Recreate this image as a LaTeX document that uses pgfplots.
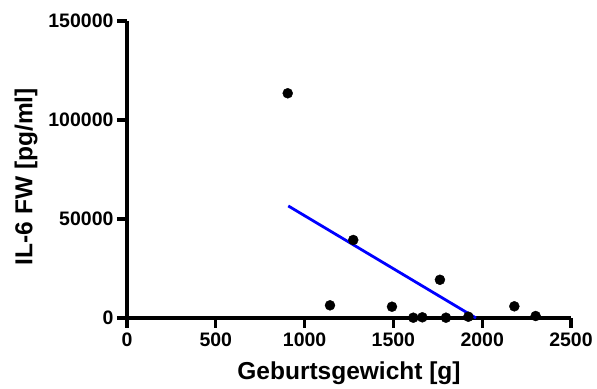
\documentclass[border=0pt]{standalone}
\usepackage{fontspec}
\setmainfont{Liberation Sans}
\usepackage{pgfplots}
\pgfplotsset{compat=1.18}
\begin{document}
\begin{tikzpicture}
\begin{axis}[
  scale only axis,
  width=444pt, height=297pt,
  xmin=0, xmax=2500, ymin=0, ymax=150000,
  axis x line=bottom, axis y line=left,
  axis line style={line width=3.2pt, -},
  x axis line style={line width=3.2pt, -},
  y axis line style={line width=3.2pt, -},
  xtick={0,500,1000,1500,2000,2500},
  xticklabels={0,500,1000,1500,2000,2500},
  ytick={0,50000,100000,150000},
  yticklabels={0,50000,100000,150000},
  scaled ticks=false,
  tick align=outside,
  major tick length=10pt,
  major tick style={line width=3.2pt, black},
  tick label style={font=\fontsize{19.5}{20}\selectfont\bfseries},
  xticklabel style={yshift=-1pt},
  label style={font=\fontsize{24.5}{25}\selectfont\bfseries},
  xlabel={Geburtsgewicht [g]},
  ylabel={IL-6 FW [pg/ml]},
  xlabel style={at={(axis description cs:0.5,0)}, anchor=base, yshift=-62pt},
  ylabel style={at={(axis description cs:-0.2275,0.476)}, anchor=center},
  clip=false,
]
\path[draw=none] (rel axis cs:0,0) ++(-127pt,-69pt) rectangle ++(597pt,387pt);
\addplot[only marks, mark=*, mark size=5pt, black] coordinates {
  (905,113500) (1143,6400) (1274,39400) (1492,5700) (1612,150) (1663,350)
  (1762,19300) (1796,150) (1922,650) (2181,5900) (2301,1000)
};
\addplot[blue, line width=2.8pt, no marks] coordinates {(908,56600) (1965,0)};
\end{axis}
\end{tikzpicture}
\end{document}
